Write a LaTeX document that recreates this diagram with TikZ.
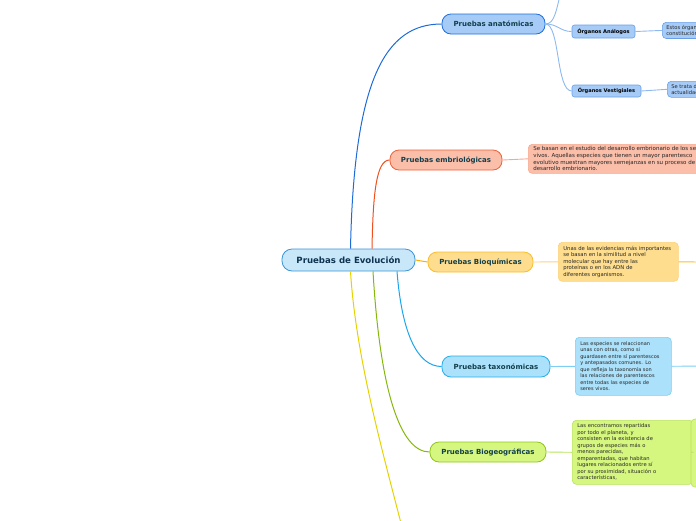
\documentclass[tikz,border=0pt]{standalone}
\usepackage{fontspec}
\setmainfont{DejaVu Sans}
\definecolor{titc}{HTML}{123F4C}
\definecolor{ctitc}{HTML}{0F3350}
\definecolor{desct}{HTML}{262626}
\definecolor{cfill}{HTML}{C8E8FA}\definecolor{cdraw}{HTML}{3C94D6}
\definecolor{afill}{HTML}{A6CBF6}\definecolor{adraw}{HTML}{1D6EDC}\definecolor{asub}{HTML}{6A9FE8}\definecolor{aline}{HTML}{8DB9F0}\definecolor{acon}{HTML}{1E6BD6}
\definecolor{efill}{HTML}{FABEA9}\definecolor{edraw}{HTML}{F0603A}\definecolor{esub}{HTML}{F7A88D}\definecolor{eline}{HTML}{F04F1E}
\definecolor{bfill}{HTML}{FEDD8E}\definecolor{bdraw}{HTML}{FBBD2A}\definecolor{bsub}{HTML}{FDD27A}\definecolor{bline}{HTML}{F8B300}
\definecolor{tfill}{HTML}{ABE1FA}\definecolor{tdraw}{HTML}{27AEE9}\definecolor{tsub}{HTML}{7CCFF3}\definecolor{tline}{HTML}{1BA6EC}
\definecolor{gfill}{HTML}{D6F77F}\definecolor{gdraw}{HTML}{8FC41E}\definecolor{gsub}{HTML}{B7E35A}\definecolor{gline}{HTML}{86B80C}
\definecolor{yline}{HTML}{E5D300}
\begin{document}
\begin{tikzpicture}[x=1pt,y=-1pt,
  mainbox/.style={rounded corners=9pt, line width=0.8pt, inner sep=0pt, text=titc,
    font=\bfseries\fontsize{7}{8}\selectfont},
  subbox/.style={rounded corners=2.5pt, line width=0.6pt, inner sep=0pt, text=black,
    font=\bfseries\fontsize{5.1}{6}\selectfont},
  descbox/.style={rounded corners=4pt, line width=0.6pt, inner xsep=5pt, inner ysep=3pt,
    anchor=north west, align=left, text=desct, font=\fontsize{5}{6.5}\selectfont},
  conn/.style={line width=1pt},
  thin/.style={line width=0.9pt}]
\useasboundingbox (0,0) rectangle (696,520);
\begin{scope}
\clip (0,0) rectangle (696,520);
% central
\node[mainbox, fill=cfill, draw=cdraw, minimum width=133pt, minimum height=22pt,
  rounded corners=10pt, font=\bfseries\fontsize{8.6}{9}\selectfont, text=ctitc] (c) at (348.5,260) {Pruebas de Evolución};
% main topics
\node[mainbox, fill=afill, draw=adraw, minimum width=103pt, minimum height=20pt] (ana) at (493.5,24) {Pruebas anatómicas};
\node[mainbox, fill=efill, draw=edraw, minimum width=112pt, minimum height=20pt] (emb) at (446,160) {Pruebas embriológicas};
\node[mainbox, fill=bfill, draw=bdraw, minimum width=105pt, minimum height=20pt] (bio) at (480.5,262) {Pruebas Bioquímicas};
\node[mainbox, fill=tfill, draw=tdraw, minimum width=108pt, minimum height=21pt] (tax) at (496,366.5) {Pruebas taxonómicas};
\node[mainbox, fill=gfill, draw=gdraw, minimum width=116pt, minimum height=20pt] (geo) at (488,452) {Pruebas Biogeográficas};
\coordinate (yend) at (404,535);
% sub nodes of anatomicas
\node[subbox, fill=afill, draw=asub, minimum width=63pt, minimum height=13pt] (anal) at (603.5,31.5) {Órganos Análogos};
\node[subbox, fill=afill, draw=asub, minimum width=69pt, minimum height=12pt] (vest) at (606.5,91) {Órganos Vestigiales};
\coordinate (homo) at (562,-12);
\node[descbox, fill=afill, draw=asub, inner xsep=4pt, font=\fontsize{5.2}{6}\selectfont] (analD) at (662,22) {Estos órganos\\constitución};
\node[descbox, fill=afill, draw=asub, inner xsep=4pt, font=\fontsize{5.2}{6}\selectfont] (vestD) at (667,81) {Se trata de\\actualidad};
% descriptions
\node[descbox, fill=efill, draw=esub, font=\fontsize{5.5}{6.6}\selectfont, inner ysep=2.5pt] (embD) at (528,144) {Se basan en el estudio del desarrollo embrionario de los seres\\vivos. Aquellas especies que tienen un mayor parentesco\\evolutivo muestran mayores semejanzas en su proceso de\\desarrollo embrionario.};
\node[descbox, fill=bfill, draw=bsub, text width=110pt, minimum height=39pt, font=\fontsize{5.3}{6.5}\selectfont] (bioD) at (558,242) {Unas de las evidencias más importantes\\se basan en la similitud a nivel\\molecular que hay entre las\\proteínas o en los ADN de\\diferentes organismos.};
\node[descbox, fill=tfill, draw=tsub, text width=86pt, minimum height=58pt] (taxD) at (575,337) {Las especies se relaccionan\\unas con otras, como si\\guardasen entre sí parentescos\\y antepasados comunes. Lo\\que refleja la taxonomía son\\las relaciones de parentescos\\entre todas las especies de\\seres vivos.};
\node[descbox, fill=gfill, draw=gsub, text width=111pt, minimum height=64pt, font=\fontsize{5.2}{6.5}\selectfont] (geoD) at (572,420) {Las encontramos repartidas\\por todo el planeta, y\\consisten en la existencia de\\grupos de especies más o\\menos parecidas,\\emparentadas, que habitan\\lugares relacionados entre sí\\por su proximidad, situación o\\características,};
\draw[rounded corners=4pt, line width=0.6pt, fill=gfill, draw=gsub] (691,419) rectangle (720,487);
\coordinate (geoN) at (691,452);
\coordinate (bioR) at (700,262);
\coordinate (taxR) at (700,366);
% connectors from center
\draw[conn, draw=acon] ([xshift=2pt]c.north) .. controls (354,80) and (385,24) .. (ana.west);
\draw[conn, draw=eline] ([xshift=23.5pt]c.north) .. controls (373,195) and (376,160) .. (emb.west);
\draw[conn, draw=bline] (c.east) -- (bio.west);
\draw[conn, draw=tline] ([xshift=48.5pt]c.south) .. controls (402,335) and (418,366.5) .. (tax.west);
\draw[conn, draw=gline] ([xshift=24.5pt]c.south) .. controls (380,390) and (400,452) .. (geo.west);
\draw[conn, draw=yline] ([xshift=2pt]c.south) .. controls (356,360) and (385,460) .. (yend);
% anatomicas children
\draw[thin, draw=aline] (ana.east) .. controls (555,24) and (556,10) .. (homo);
\draw[thin, draw=aline] (ana.east) .. controls (558,24) and (560,31.5) .. (anal.west);
\draw[thin, draw=aline] (ana.east) .. controls (560,24) and (556,91) .. (vest.west);
\draw[thin, draw=aline] (anal.east) -- (analD.west);
\draw[thin, draw=aline] (vest.east) -- (vestD.west);
% topic to descriptions
\draw[thin, draw=esub] (emb.east) -- (embD.west);
\draw[thin, draw=bsub] (bio.east) -- (bioD.west);
\draw[thin, draw=tsub] (tax.east) -- (taxD.west);
\draw[thin, draw=gsub] (geo.east) -- (geoD.west);
\draw[thin, draw=bdraw] (bioD.east) -- (bioR);
\draw[thin, draw=tsub] (taxD.east) -- (taxR);
\draw[thin, draw=gsub] (geoD.east) -- (geoN);
\end{scope}
\end{tikzpicture}
\end{document}
